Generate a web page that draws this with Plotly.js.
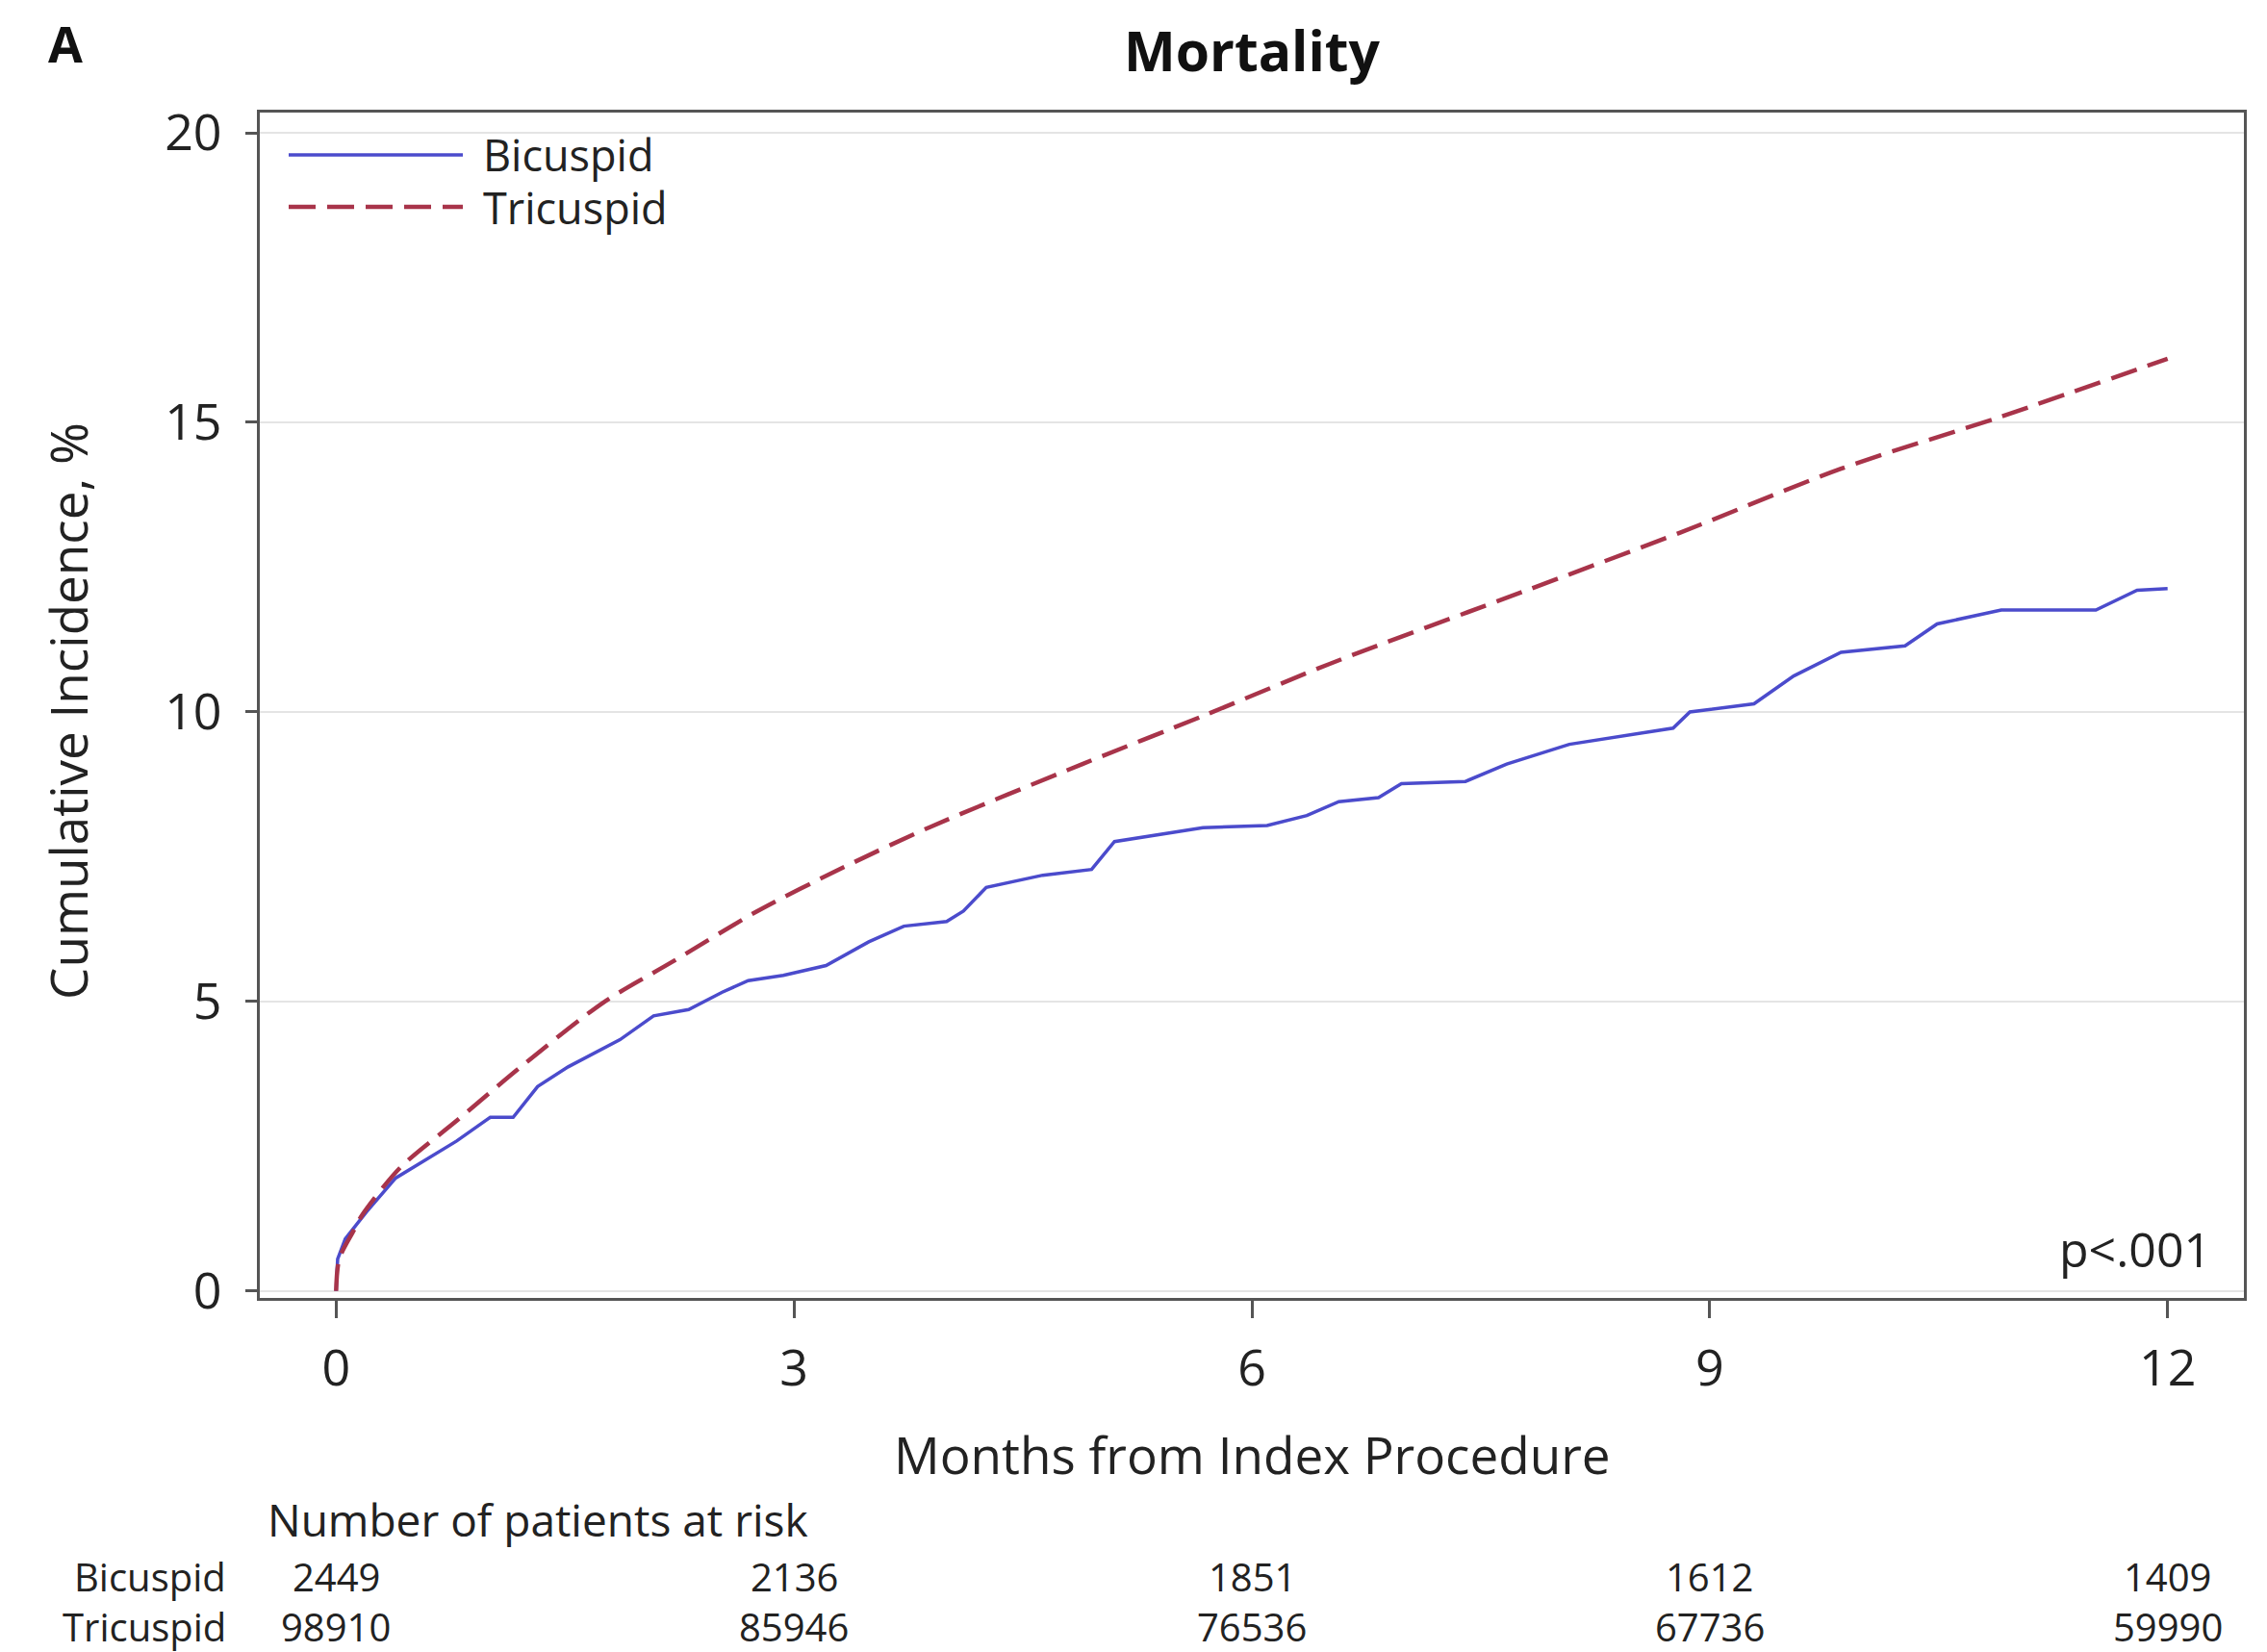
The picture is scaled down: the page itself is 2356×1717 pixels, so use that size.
<!DOCTYPE html>
<html>
<head>
<meta charset="utf-8">
<script src="https://cdn.plot.ly/plotly-3.0.1.min.js"></script>
<style>html,body{margin:0;padding:0;background:#fff;}#chart{width:2356px;height:1717px;}</style>
</head>
<body>
<div id="chart"></div>
<script>
// ---- data ----
const seriesNames = ["Bicuspid", "Tricuspid"];
const bicuspidMonths = [0, 0.01, 0.06, 0.2, 0.39, 0.62, 0.79, 1.01, 1.16, 1.32, 1.52, 1.86, 2.08, 2.31, 2.53, 2.7, 2.93, 3.21, 3.49, 3.72, 4.0, 4.11, 4.26, 4.63, 4.95, 5.1, 5.68, 6.1, 6.36, 6.57, 6.83, 6.98, 7.4, 7.67, 8.08, 8.76, 8.87, 9.29, 9.55, 9.86, 10.28, 10.49, 10.91, 11.53, 11.8, 12.0];
const bicuspidIncidence = [0, 0.55, 0.9, 1.37, 1.95, 2.32, 2.59, 3.0, 3.0, 3.53, 3.87, 4.34, 4.75, 4.86, 5.16, 5.36, 5.45, 5.62, 6.03, 6.3, 6.38, 6.56, 6.97, 7.18, 7.28, 7.76, 8.0, 8.04, 8.21, 8.45, 8.52, 8.76, 8.8, 9.1, 9.44, 9.72, 10.0, 10.14, 10.62, 11.03, 11.14, 11.52, 11.76, 11.76, 12.1, 12.13];
const tricuspidMonths = [0, 0.02, 0.11, 0.17, 0.42, 0.79, 1.21, 1.75, 2.2, 2.76, 3.32, 3.89, 4.89, 5.68, 6.51, 7.77, 8.81, 9.86, 10.91, 12.0];
const tricuspidIncidence = [0, 0.55, 1.02, 1.31, 2.13, 2.94, 3.87, 4.98, 5.68, 6.56, 7.31, 8.01, 9.1, 9.93, 10.83, 12.07, 13.1, 14.2, 15.1, 16.1];
const xTicks = [0, 3, 6, 9, 12];
const yTicks = [0, 5, 10, 15, 20];
const riskBicuspid = [2449, 2136, 1851, 1612, 1409];
const riskTricuspid = [98910, 85946, 76536, 67736, 59990];
const pValueText = "p<.001";

// ---- layout geometry ----
const W = 2356, H = 1717;
const L = 270, R = 2332, T = 117, B = 1349;
const pw = R - L, ph = B - T;
const px = x => (x - L) / pw;      // pixel -> paper x
const py = y => (B - y) / ph;      // pixel -> paper y
const FONT = "'Open Sans', 'Noto Sans', sans-serif";
const TXT = "#222";
const colors = ["#4b4bcc", "#a8344a"];
const DASH = "28px,12px";

const traces = [
  {x: bicuspidMonths, y: bicuspidIncidence, name: seriesNames[0], mode: "lines",
   line: {color: colors[0], width: 3.5, shape: "linear"}},
  {x: tricuspidMonths, y: tricuspidIncidence, name: seriesNames[1], mode: "lines",
   line: {color: colors[1], width: 4.5, dash: DASH, shape: "spline", smoothing: 0.8}}
];

const annotations = [];
const shapes = [];
// panel letter
annotations.push({text: "<b>A</b>", xref: "paper", yref: "paper", x: px(68), y: py(45),
  xanchor: "center", yanchor: "middle", showarrow: false, font: {family: FONT, size: 52, color: "#111"}});
// axis titles
annotations.push({text: "Months from Index Procedure", xref: "paper", yref: "paper", x: px(1301), y: py(1511),
  xanchor: "center", yanchor: "middle", showarrow: false, font: {family: FONT, size: 53, color: TXT}});
annotations.push({text: "Cumulative Incidence, %", xref: "paper", yref: "paper", x: px(70), y: py(739), textangle: -90,
  xanchor: "center", yanchor: "middle", showarrow: false, font: {family: FONT, size: 53, color: TXT}});
// p value
annotations.push({text: pValueText, xref: "paper", yref: "paper", x: px(2300), y: py(1298),
  xanchor: "right", yanchor: "middle", showarrow: false, font: {family: FONT, size: 50, color: TXT}});
// legend (custom, long line samples)
const legY = [161, 215];
seriesNames.forEach((n, i) => {
  shapes.push({type: "line", xref: "paper", yref: "paper", x0: px(300), x1: px(481), y0: py(legY[i]), y1: py(legY[i]),
    line: {color: colors[i], width: i === 0 ? 3.5 : 4.5, dash: i === 0 ? "solid" : DASH}});
  annotations.push({text: n, xref: "paper", yref: "paper", x: px(500), y: py(legY[i]),
    xanchor: "left", yanchor: "middle", showarrow: false, font: {family: FONT, size: 45, color: TXT}});
});
// risk table
annotations.push({text: "Number of patients at risk", xref: "paper", yref: "paper", x: px(276), y: py(1579),
  xanchor: "left", yanchor: "middle", showarrow: false, font: {family: FONT, size: 46, color: TXT}});
const rowY = [1638, 1690];
const rows = [riskBicuspid, riskTricuspid];
seriesNames.forEach((n, i) => {
  annotations.push({text: n, xref: "paper", yref: "paper", x: px(236), y: py(rowY[i]), borderpad: 0,
    xanchor: "right", yanchor: "middle", showarrow: false, font: {family: FONT, size: 40, color: TXT}});
  rows[i].forEach((v, j) => {
    annotations.push({text: String(v), xref: "x", yref: "paper", x: xTicks[j], y: py(rowY[i]), borderpad: 0,
      xanchor: "center", yanchor: "middle", showarrow: false, font: {family: FONT, size: 40, color: TXT}});
  });
});

const layout = {
  width: W, height: H,
  margin: {l: L, r: W - R, t: T, b: H - B, pad: 0},
  paper_bgcolor: "#fff", plot_bgcolor: "#fff",
  showlegend: false,
  title: {text: "<b>Mortality</b>", font: {family: FONT, size: 57, color: "#111"},
          xref: "paper", x: 0.5, xanchor: "center", yref: "container", y: 1 - 54 / H, yanchor: "middle"},
  xaxis: {range: [-0.5, 12.5], tickvals: xTicks, ticktext: xTicks.map(String), showgrid: false, zeroline: false,
          showline: true, mirror: true, linecolor: "#555", linewidth: 3,
          ticks: "outside", ticklen: 18, tickwidth: 3, tickcolor: "#555", ticklabelstandoff: 8,
          tickfont: {family: FONT, size: 52, color: TXT}},
  yaxis: {range: [-0.12, 20.35], tickvals: yTicks, ticktext: yTicks.map(String), showgrid: true, gridcolor: "#e4e4e4", gridwidth: 2,
          zeroline: false, showline: true, mirror: true, linecolor: "#555", linewidth: 3,
          ticks: "outside", ticklen: 12, tickwidth: 3, tickcolor: "#555", ticklabelstandoff: 14,
          tickfont: {family: FONT, size: 52, color: TXT}},
  annotations: annotations,
  shapes: shapes
};

Plotly.newPlot("chart", traces, layout, {displayModeBar: false, staticPlot: true});
</script>
</body>
</html>
